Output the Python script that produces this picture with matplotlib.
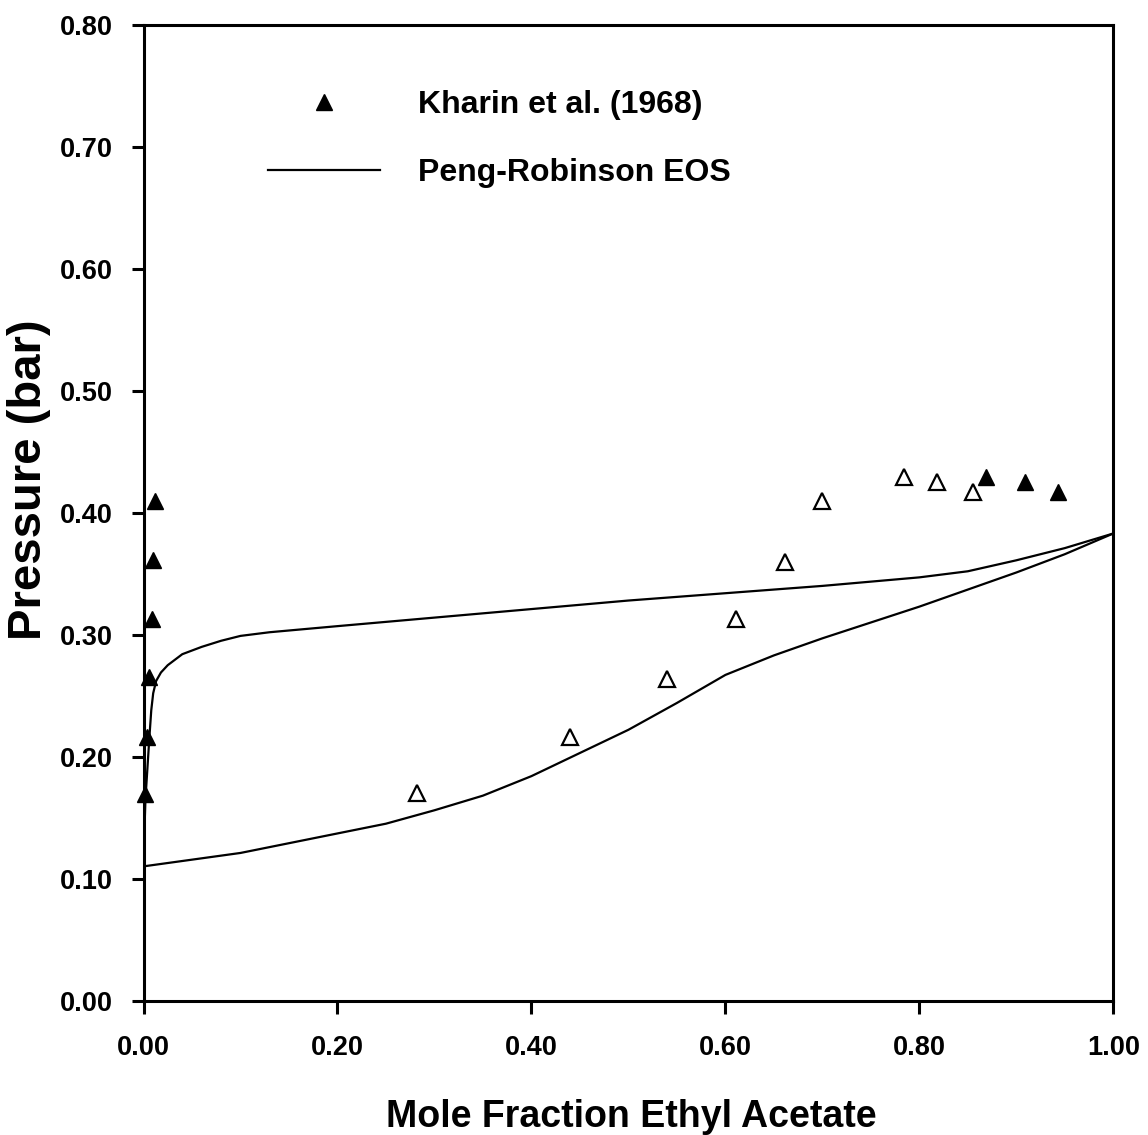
import matplotlib
matplotlib.use("Agg")
import matplotlib.pyplot as plt
from matplotlib.ticker import FixedLocator, FormatStrFormatter

plt.rcParams['font.family'] = ['Liberation Sans', 'DejaVu Sans']
plt.rcParams['font.weight'] = 'bold'

# Experimental data, Kharin et al. (1968)
kharin_left_x = [0.002, 0.004, 0.006, 0.009, 0.010, 0.012]
kharin_left_p = [0.169, 0.216, 0.265, 0.313, 0.361, 0.410]
kharin_right_x = [0.869, 0.909, 0.943]
kharin_right_p = [0.429, 0.425, 0.417]
open_x = [0.282, 0.440, 0.540, 0.611, 0.661, 0.700, 0.784, 0.818, 0.855]
open_p = [0.170, 0.216, 0.264, 0.313, 0.360, 0.410, 0.429, 0.425, 0.417]

# Peng-Robinson EOS, upper branch
pr_upper_x = [0.0, 0.001, 0.002, 0.004, 0.006, 0.008, 0.010, 0.013, 0.018, 0.025,
              0.040, 0.060, 0.080, 0.100, 0.130, 0.200, 0.300, 0.400, 0.500,
              0.600, 0.700, 0.800, 0.850, 0.900, 0.950, 1.000]
pr_upper_p = [0.110, 0.140, 0.165, 0.190, 0.215, 0.238, 0.252, 0.262, 0.269, 0.275,
              0.284, 0.290, 0.295, 0.299, 0.302, 0.307, 0.314, 0.321, 0.328,
              0.334, 0.340, 0.347, 0.352, 0.361, 0.371, 0.383]
# Peng-Robinson EOS, lower branch
pr_lower_x = [0.0, 0.10, 0.20, 0.25, 0.30, 0.35, 0.40, 0.45, 0.50, 0.55, 0.60,
              0.65, 0.70, 0.75, 0.80, 0.85, 0.90, 0.95, 1.00]
pr_lower_p = [0.110, 0.121, 0.137, 0.145, 0.156, 0.168, 0.184, 0.203, 0.222, 0.244,
              0.267, 0.283, 0.297, 0.310, 0.323, 0.337, 0.351, 0.366, 0.383]

x_ticks = [0.0, 0.2, 0.4, 0.6, 0.8, 1.0]
y_ticks = [0.0, 0.1, 0.2, 0.3, 0.4, 0.5, 0.6, 0.7, 0.8]

fig = plt.figure(figsize=(11.48, 11.35), dpi=100)
ax = fig.add_axes([0.125, 0.1185, 0.8448, 0.8595])

line_kw = dict(color='black', lw=1.6, zorder=2)
pr_line, = ax.plot(pr_upper_x, pr_upper_p, **line_kw)
ax.plot(pr_lower_x, pr_lower_p, **line_kw)

mk = dict(marker='^', ms=12, ls='none', zorder=3, clip_on=False)
ax.plot(open_x, open_p, mfc='white', mec='black', mew=1.6, **mk)
filled, = ax.plot(kharin_left_x, kharin_left_p, color='black', **mk)
ax.plot(kharin_right_x, kharin_right_p, color='black', **mk)

ax.set_xlim(0, 1)
ax.set_ylim(0, 0.8)
ax.xaxis.set_major_locator(FixedLocator(x_ticks))
ax.yaxis.set_major_locator(FixedLocator(y_ticks))
ax.xaxis.set_major_formatter(FormatStrFormatter('%.2f'))
ax.yaxis.set_major_formatter(FormatStrFormatter('%.2f'))
ax.tick_params(axis='both', direction='out', length=9, width=2.2,
               labelsize=19.5, top=False, right=False)
ax.tick_params(axis='x', pad=16)
ax.tick_params(axis='y', pad=13)
for lbl in ax.get_xticklabels() + ax.get_yticklabels():
    lbl.set_fontweight('bold')
for sp in ax.spines.values():
    sp.set_linewidth(2.2)

ax.set_xlabel('Mole Fraction Ethyl Acetate', fontsize=27, fontweight='bold')
ax.set_ylabel('Pressure (bar)', fontsize=34, fontweight='bold')
ax.xaxis.set_label_coords(0.503, -0.101)
ax.yaxis.set_label_coords(-0.095, 0.534)

leg = ax.legend([filled, pr_line], ['Kharin et al. (1968)', 'Peng-Robinson EOS'],
                loc='upper left', bbox_to_anchor=(0.115, 0.946), frameon=False,
                fontsize=23, handlelength=3.5, handletextpad=1.2, labelspacing=1.17,
                borderaxespad=0)
for t in leg.get_texts():
    t.set_fontweight('bold')

fig.savefig('out.png', dpi=100)
